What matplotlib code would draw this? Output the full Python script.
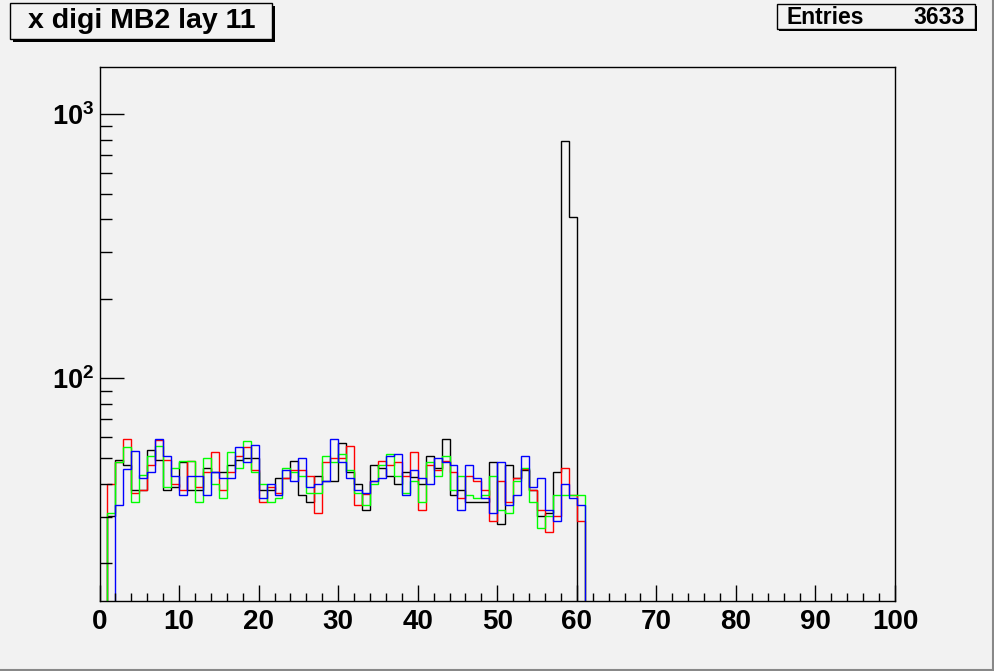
import numpy as np
import matplotlib
matplotlib.use("Agg")
import matplotlib.pyplot as plt
from matplotlib.patches import Rectangle
from matplotlib.lines import Line2D
from matplotlib.ticker import FixedLocator, FixedFormatter, NullFormatter

plt.rcParams['font.family'] = ['Liberation Sans', 'DejaVu Sans']
plt.rcParams['mathtext.fontset'] = 'custom'
plt.rcParams['mathtext.bf'] = 'Liberation Sans:bold'
plt.rcParams['mathtext.rm'] = 'Liberation Sans:bold'

# ---------------- data ----------------
title = "x digi MB2 lay 11"
entries_label = "Entries"
entries_value = "3633"
x_range = (0, 100)
x_ticks = [0, 10, 20, 30, 40, 50, 60, 70, 80, 90, 100]
y_major = [100, 1000]
y_major_labels = [r"$\mathbf{10^{2}}$", r"$\mathbf{10^{3}}$"]

# bin contents for bins [0,1), [1,2), ... [60,61); all later bins are empty
black = [0, 30.2, 49.0, 47.2, 38.0, 38.0, 53.8, 49.0, 38.0, 39.0,
         48.1, 38.0, 38.0, 46.0, 44.1, 44.1, 47.2, 49.0, 50.2, 50.2,
         38.0, 38.0, 42.2, 42.2, 48.9, 36.1, 34.0, 42.9, 41.1, 41.1,
         57.2, 44.1, 40.0, 31.9, 47.2, 46.0, 42.9, 40.0, 44.1, 42.5,
         40.0, 51.1, 46.0, 59.2, 36.1, 38.0, 34.0, 34.0, 34.0, 48.1,
         28.1, 47.2, 42.2, 45.2, 38.0, 30.1, 31.1, 44.1, 789, 407,
         0]
red = [0, 40.0, 48.5, 59.2, 36.9, 38.0, 47.2, 58.3, 49.0, 40.0,
       38.0, 48.9, 39.0, 44.1, 52.9, 38.0, 44.1, 51.1, 55.2, 45.2,
       34.0, 39.0, 37.0, 42.2, 45.2, 45.2, 42.9, 31.1, 48.1, 50.2,
       50.2, 55.3, 33.1, 36.5, 41.1, 48.9, 47.2, 48.1, 42.9, 52.9,
       31.9, 47.2, 45.2, 48.9, 44.1, 35.2, 42.9, 41.1, 38.0, 29.0,
       41.1, 34.0, 42.2, 45.5, 38.0, 31.9, 26.2, 30.1, 46.0, 36.1,
       29.0]
green = [0, 31.1, 48.1, 55.1, 34.0, 43.1, 50.9, 55.4, 38.9, 46.0,
         48.9, 48.9, 34.0, 50.2, 40.0, 35.2, 52.9, 46.0, 58.2, 44.1,
         40.0, 34.0, 35.2, 46.0, 44.1, 42.9, 37.0, 37.0, 51.1, 48.1,
         52.0, 45.2, 37.0, 33.1, 40.0, 47.2, 52.0, 42.9, 37.0, 41.1,
         34.0, 48.1, 42.9, 51.1, 38.0, 42.9, 36.1, 35.2, 36.1, 42.9,
         31.9, 31.1, 41.1, 46.0, 34.0, 27.1, 30.1, 36.1, 36.1, 36.1,
         36.1]
blue = [0, 0, 33.2, 45.4, 53.0, 42.2, 44.1, 59.2, 50.9, 42.8,
        36.2, 42.9, 42.9, 36.2, 44.1, 42.2, 42.2, 55.2, 48.1, 56.2,
        35.2, 40.0, 36.1, 45.2, 41.1, 50.2, 39.0, 40.0, 41.1, 59.2,
        48.1, 42.2, 38.0, 37.0, 41.1, 42.2, 51.1, 52.0, 36.1, 45.2,
        42.2, 40.0, 50.2, 48.1, 47.2, 31.9, 47.2, 42.2, 35.2, 31.1,
        48.1, 33.1, 36.1, 51.1, 39.0, 42.2, 31.9, 29.0, 40.0, 35.2,
        33.1]

series = [(black, "#000000"), (red, "#ff0000"), (green, "#00ff00"), (blue, "#0000ff")]

# ---------------- figure ----------------
W, H = 995, 671
bg = "#f2f2f2"
fig = plt.figure(figsize=(W / 100, H / 100), dpi=100, facecolor=bg)

def fx(x):
    return x / W

def fy(y):
    return 1 - y / H

left, right, top, bottom = 99.5, 895, 67, 601
ax = fig.add_axes([fx(left), fy(bottom), fx(right) - fx(left), fy(top) - fy(bottom)])
ax.set_facecolor(bg)
ax.set_yscale("log")
ax.set_xlim(*x_range)
ax.set_ylim(14.4, 1505)

for vals, col in series:
    v = np.asarray(vals, dtype=float)
    v = np.where(v > 0, v, 1e-2)
    edges = np.arange(len(v) + 1)
    ax.stairs(v, edges, baseline=1e-2, color=col, lw=1.0)

for s in ax.spines.values():
    s.set_color("black")
    s.set_linewidth(1.0)

ax.xaxis.set_major_locator(FixedLocator(x_ticks))
ax.xaxis.set_minor_locator(FixedLocator(np.arange(0, 101, 2)))
ax.set_xticklabels([str(t) for t in x_ticks])
ax.tick_params(axis="x", which="major", direction="in", length=11.5, width=1.0,
               labelsize=20, pad=6, top=False)
ax.tick_params(axis="x", which="minor", direction="in", length=5.8, width=1.0, top=False)
for lab in ax.get_xticklabels():
    lab.set_fontweight("bold")

minors = [m * 10 for m in range(2, 10)] + [m * 100 for m in range(2, 10)]
ax.yaxis.set_major_locator(FixedLocator(y_major))
ax.yaxis.set_major_formatter(FixedFormatter(y_major_labels))
ax.yaxis.set_minor_locator(FixedLocator(minors))
ax.yaxis.set_minor_formatter(NullFormatter())
ax.tick_params(axis="y", which="major", direction="in", length=17.3, width=1.0,
               labelsize=19.5, pad=4, right=False)
ax.tick_params(axis="y", which="minor", direction="in", length=8.6, width=1.0, right=False)

# ---------------- title box ----------------
def box(x0, y0, x1, y1, sh=3):
    fig.patches.append(Rectangle((fx(x0 + sh), fy(y1 + sh)), fx(x1 - x0), fy(y0) - fy(y1),
                                 transform=fig.transFigure, facecolor="black",
                                 edgecolor="none", zorder=5))
    fig.patches.append(Rectangle((fx(x0), fy(y1)), fx(x1 - x0), fy(y0) - fy(y1),
                                 transform=fig.transFigure, facecolor=bg,
                                 edgecolor="black", lw=1.0, zorder=6))

box(9.5, 3, 272, 38.5)
fig.text(fx(142), fy(21.5), title, ha="center", va="center", fontsize=20.5,
         fontweight="bold", zorder=7)

box(777, 4, 975, 28.5, sh=2)
fig.text(fx(787), fy(17.5), entries_label, ha="left", va="center", fontsize=16.5,
         fontweight="bold", zorder=7)
fig.text(fx(965), fy(17.5), entries_value, ha="right", va="center", fontsize=16.5,
         fontweight="bold", zorder=7)

# canvas border
fig.lines.append(Line2D([fx(993.5), fx(993.5)], [fy(0), fy(670)], transform=fig.transFigure,
                        color="#888888", lw=1.5))
fig.lines.append(Line2D([fx(0), fx(994)], [fy(669.5), fy(669.5)], transform=fig.transFigure,
                        color="#888888", lw=1.5))

fig.savefig("out.png", dpi=100, facecolor=bg)
